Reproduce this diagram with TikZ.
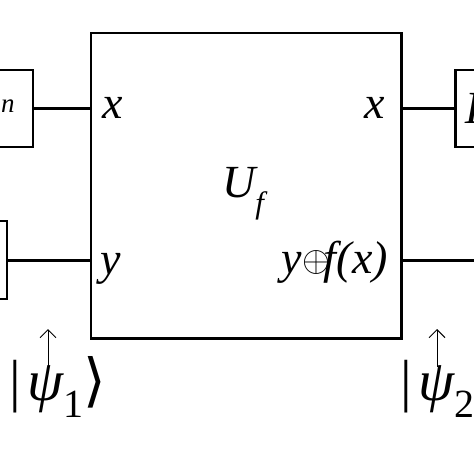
\RequirePackage{fix-cm}
\documentclass[tikz,border=0pt]{standalone}
\usepackage{fontspec}
\setmainfont{Liberation Serif}
\newfontfamily\timesfont{Liberation Serif}
\newfontfamily\dejavufont{DejaVu Sans}
\usepackage{tikz}
\usetikzlibrary{positioning,arrows.meta}

\tikzset{
  gate/.style={draw,line width=2.5pt,inner ysep=0pt,minimum height=77pt,
    font=\timesfont\fontsize{46}{50}\selectfont\itshape},
  wire/.style={line width=3pt},
  lbl/.style={inner sep=0pt,font=\timesfont\fontsize{46}{50}\selectfont\itshape},
  ket/.style={inner sep=0pt,font=\timesfont\fontsize{58}{62}\selectfont},
  tag/.style={line width=1pt,-{Straight Barb[length=8pt,width=16pt,line width=1pt]}}
}
\newcommand{\Hn}{H\raisebox{11pt}{\fontsize{27}{30}\selectfont{\dejavufont\upshape ⊗}n}}

\begin{document}
\begin{tikzpicture}[x=1pt,y=-1pt]
    \useasboundingbox (0,0) rectangle (474,474);
    \clip (0,0) rectangle (474,474);
    %%%%% THE ORACLE
    \node[draw,line width=2.5pt,minimum width=310.5pt,minimum height=305.5pt,
      anchor=north west,inner sep=0pt] (UF) at (89.5,31.5) {};
    \node[lbl,anchor=base west] (UFNAME) at (222,197)
      {U\raisebox{-16pt}{\fontsize{31}{34}\selectfont f}};
    \node[lbl,anchor=base west] (XIN) at (102,118) {x};
    \node[lbl,anchor=base west] (YIN) at (100,274) {y};
    \node[lbl,anchor=base east] (XOUT) at (385,118) {x};
    \node[lbl,anchor=base east] (YOUT) at (388,273)
      {y\kern1pt\raisebox{2pt}{\fontsize{36}{40}\selectfont$\oplus$}\kern-7pt f(x)};
    %%%%% THE GATES
    \node[gate,anchor=east,inner xsep=18pt] (HL) at (34,108.5) {\Hn};
    \node[gate,anchor=east,minimum width=60pt,minimum height=78pt] (HB) at (8,260) {};
    \node[gate,anchor=west,inner xsep=10pt] (HR) at (454,108.5) {\Hn};
    \coordinate (OUT) at (490,260);
    %%%%% WIRES
    \draw[wire] (HL.east) -- (HL.east -| UF.west);
    \draw[wire] (HB.east) -- (HB.east -| UF.west);
    \draw[wire] (UF.east |- HR.west) -- (HR.west);
    \draw[wire] (UF.east |- OUT) -- (OUT);
    %%%% STATES
    \node[ket,anchor=base west] (PSI1) at (9,400)
      {|\kern7pt{\itshape ψ}\raisebox{-17pt}{\fontsize{40}{44}\selectfont 1}{\dejavufont ⟩}};
    \node[ket,anchor=base west] (PSI2) at (400,400)
      {|\kern7pt{\itshape ψ}\raisebox{-17pt}{\fontsize{40}{44}\selectfont 2}{\dejavufont ⟩}};
    \coordinate (T1) at (48,367);
    \coordinate (H1) at (48,329);
    \coordinate (T2) at (437,367);
    \coordinate (H2) at (437,329);
    \draw[tag] (T1) -- (H1);
    \draw[tag] (T2) -- (H2);
\end{tikzpicture}
\end{document}
